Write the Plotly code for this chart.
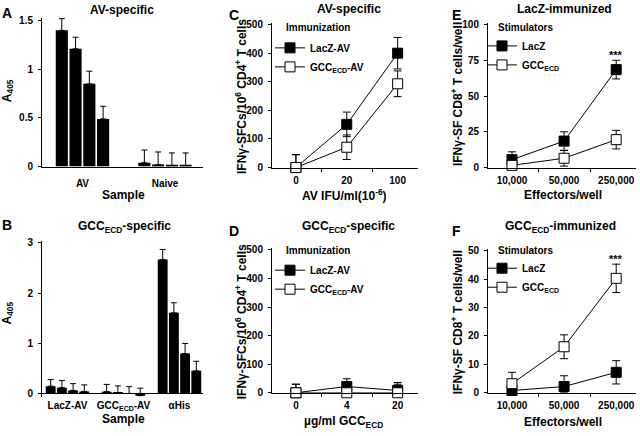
import plotly.graph_objects as go

# Panel A: AV-specific antibody (four serum dilutions per group)
a_groups = ["AV", "Naive"]
a_vals = [[1.40, 0.04], [1.21, 0.02], [0.85, 0.01], [0.49, 0.01]]
a_err = [[0.12, 0.13], [0.12, 0.13], [0.13, 0.13], [0.13, 0.13]]

# Panel B: GCC-specific antibody
b_groups = ["LacZ-AV", "GCC<sub>ECD</sub>-AV", "αHis"]
b_vals = [[0.15, 0.04, 2.67], [0.12, 0.02, 1.61], [0.065, 0.005, 0.80], [0.045, -0.04, 0.455]]
b_err = [[0.13, 0.145, 0.20], [0.14, 0.135, 0.20], [0.135, 0.135, 0.20], [0.13, 0.15, 0.19]]

# Panel C: AV-specific CD4 response
c_doses = ["0", "20", "100"]
c_lacz = [0, 151, 400]
c_lacz_err = [45, 43, 55]
c_gcc = [0, 71, 293]
c_gcc_err = [45, 43, 45]

# Panel D: GCC-specific CD4 response
d_doses = ["0", "4", "20"]
d_lacz = [0, 22, 8]
d_lacz_err = [30, 27, 28]
d_gcc = [0, 0, 0]
d_gcc_err = [30, 30, 30]

# Panels E/F: CD8 responses
effectors = ["10,000", "50,000", "250,000"]
e_lacz = [5.5, 18.5, 68.5]
e_lacz_err = [5.5, 6.5, 6.5]
e_gcc = [1.5, 6.5, 19.5]
e_gcc_err = [4, 5.5, 6.5]
f_lacz = [0.8, 2.2, 7.2]
f_lacz_err = [2, 3.8, 4.1]
f_gcc = [3.2, 16.2, 40.3]
f_gcc_err = [4, 4.2, 5]
sig_label = "***"

W, H = 640, 436
FONT = "Liberation Sans, Arial, sans-serif"


def tf(size):
    return dict(family=FONT, size=size, color="black", weight="bold")


def xdom(a, b):
    return [a / W, b / W]


def ydom(top, bottom):
    return [1 - bottom / H, 1 - top / H]


fig = go.Figure()


def add_bars(groups, vals, errs, gw, xa, ya):
    n = len(vals)
    slot = gw / n
    bw = slot * 0.88
    for i in range(n):
        fig.add_trace(go.Bar(
            x=groups, y=vals[i], width=bw, offset=-gw / 2 + i * slot + (slot - bw) / 2,
            marker=dict(color="black", line=dict(width=0)),
            error_y=dict(type="data", array=errs[i], arrayminus=[0] * len(errs[i]),
                         color="black", thickness=1, width=3),
            showlegend=False, xaxis=xa, yaxis=ya))


def add_line(x, y, err, name, fill, legend, xa, ya):
    fig.add_trace(go.Scatter(
        x=x, y=y, name=name, mode="lines+markers",
        line=dict(color="black", width=1),
        marker=dict(symbol="square", size=10, color=fill, line=dict(color="black", width=1)),
        error_y=dict(type="data", array=err, arrayminus=[min(e, v) for e, v in zip(err, y)],
                     color="black", thickness=1, width=4),
        cliponaxis=False, legend=legend, xaxis=xa, yaxis=ya))


add_bars(a_groups, a_vals, a_err, 0.667, "x", "y")
add_bars(b_groups, b_vals, b_err, 0.80, "x2", "y2")

add_line(c_doses, c_lacz, c_lacz_err, "LacZ-AV", "black", "legend", "x3", "y3")
add_line(c_doses, c_gcc, c_gcc_err, "GCC<sub>ECD</sub>-AV", "white", "legend", "x3", "y3")
add_line(d_doses, d_lacz, d_lacz_err, "LacZ-AV", "black", "legend2", "x4", "y4")
add_line(d_doses, d_gcc, d_gcc_err, "GCC<sub>ECD</sub>-AV", "white", "legend2", "x4", "y4")
add_line(effectors, e_lacz, e_lacz_err, "LacZ", "black", "legend3", "x5", "y5")
add_line(effectors, e_gcc, e_gcc_err, "GCC<sub>ECD</sub>", "white", "legend3", "x5", "y5")
add_line(effectors, f_lacz, f_lacz_err, "LacZ", "black", "legend4", "x6", "y6")
add_line(effectors, f_gcc, f_gcc_err, "GCC<sub>ECD</sub>", "white", "legend4", "x6", "y6")


def xax(a, b, rng, anchor, ticks=True, line=True, standoff=3):
    d = dict(domain=xdom(a, b), range=rng, anchor=anchor, type="category",
             showline=line, linecolor="black", linewidth=1, showgrid=False, zeroline=False,
             tickfont=tf(10), ticklabelstandoff=standoff)
    if ticks:
        d.update(ticks="outside", tickson="boundaries", ticklen=3, tickcolor="black")
    return d


def yax(top, bottom, rng, dtick, anchor):
    return dict(domain=ydom(top, bottom), range=rng, dtick=dtick, anchor=anchor,
                showline=True, linecolor="black", linewidth=1, ticks="outside", ticklen=3,
                tickcolor="black", showgrid=False, zeroline=False, tickfont=tf(10),
                ticklabelstandoff=3)


def legend(x, top):
    return dict(x=x / W, y=1 - top / H, xanchor="left", yanchor="top",
                font=tf(10), itemwidth=30, bgcolor="rgba(0,0,0,0)", tracegroupgap=0)


def note(text, x, y, size, angle=0, anchor="center"):
    return dict(text=text, x=x / W, y=1 - y / H, xref="paper", yref="paper", showarrow=False,
                xanchor=anchor, yanchor="middle", textangle=angle, font=tf(size))


yb = yax(243, 402, [-0.06, 3.04], 1, "x2")
yb.update(zeroline=True, zerolinecolor="black", zerolinewidth=1)

fig.update_layout(
    width=W, height=H, margin=dict(l=0, r=0, t=0, b=0),
    paper_bgcolor="white", plot_bgcolor="white",
    font=dict(family=FONT, color="black", weight="bold"),
    barmode="overlay", showlegend=True,
    xaxis=xax(42, 203, [-0.49, 1.46], "y", ticks=False, standoff=7),
    yaxis=yax(15, 167, [0, 1.53], 0.5, "x"),
    xaxis2=xax(42, 203, [-0.455, 2.42], "y2", ticks=False, line=False, standoff=1),
    yaxis2=yb,
    xaxis3=xax(272, 418, [-0.47, 2.4], "y3"),
    yaxis3=yax(20, 168, [0, 507], 100, "x3"),
    xaxis4=xax(272, 418, [-0.47, 2.4], "y4"),
    yaxis4=yax(250, 398, [0, 507], 100, "x4"),
    xaxis5=xax(488, 636, [-0.46, 2.38], "y5"),
    yaxis5=yax(20, 168, [0, 101.4], 25, "x5"),
    xaxis6=xax(488, 636, [-0.46, 2.38], "y6"),
    yaxis6=yax(251, 398, [0, 50.7], 10, "x6"),
    legend=legend(270, 31),
    legend2=legend(270, 258),
    legend3=legend(482, 29),
    legend4=legend(482, 256),
)

notes = [
    note("A", 7, 10, 14), note("B", 7, 227, 14), note("C", 234, 12, 14),
    note("D", 234, 233, 14), note("E", 456, 12, 14), note("F", 456, 233, 14),
    note("AV-specific", 122, 7, 12), note("GCC<sub>ECD</sub>-specific", 124, 229, 12),
    note("AV-specific", 349, 6, 12), note("GCC<sub>ECD</sub>-specific", 348, 229, 12),
    note("LacZ-immunized", 564, 6, 12), note("GCC<sub>ECD</sub>-immunized", 560, 229, 12),
    note("Sample", 123, 196, 12), note("Sample", 123, 425, 12),
    note("AV IFU/ml(10<sup>-6</sup>)", 344, 196, 12), note("µg/ml GCC<sub>ECD</sub>", 343, 428, 12),
    note("Effectors/well", 563, 196, 12), note("Effectors/well", 563, 428, 12),
    note("A<sub>405</sub>", 8, 90, 12, -90), note("A<sub>405</sub>", 8, 317, 12, -90),
    note("IFNγ-SFCs/10<sup>6</sup> CD4<sup>+</sup> T cells", 241, 96, 12, -90),
    note("IFNγ-SFCs/10<sup>6</sup> CD4<sup>+</sup> T cells", 241, 326, 12, -90),
    note("IFNγ-SF CD8<sup>+</sup> T cells/well", 457, 93, 12, -90),
    note("IFNγ-SF CD8<sup>+</sup> T cells/well", 457, 326, 12, -90),
    note("Immunization", 284, 25, 10, anchor="left"),
    note("Immunization", 284, 253, 10, anchor="left"),
    note("Stimulators", 496, 25, 10, anchor="left"),
    note("Stimulators", 496, 253, 10, anchor="left"),
]
notes.append(dict(text=sig_label, x=effectors[2], y=e_lacz[2] + e_lacz_err[2], xref="x5", yref="y5",
                  showarrow=False, yanchor="middle", yshift=5, font=tf(11)))
notes.append(dict(text=sig_label, x=effectors[2], y=f_gcc[2] + f_gcc_err[2], xref="x6", yref="y6",
                  showarrow=False, yanchor="middle", yshift=5, font=tf(11)))
fig.update_layout(annotations=notes)

# the default page has an 8px body margin; drop it so the figure fills the window
fig.write_html("out.html", config={"displayModeBar": False},
               post_script="document.body.style.margin='0px';")
